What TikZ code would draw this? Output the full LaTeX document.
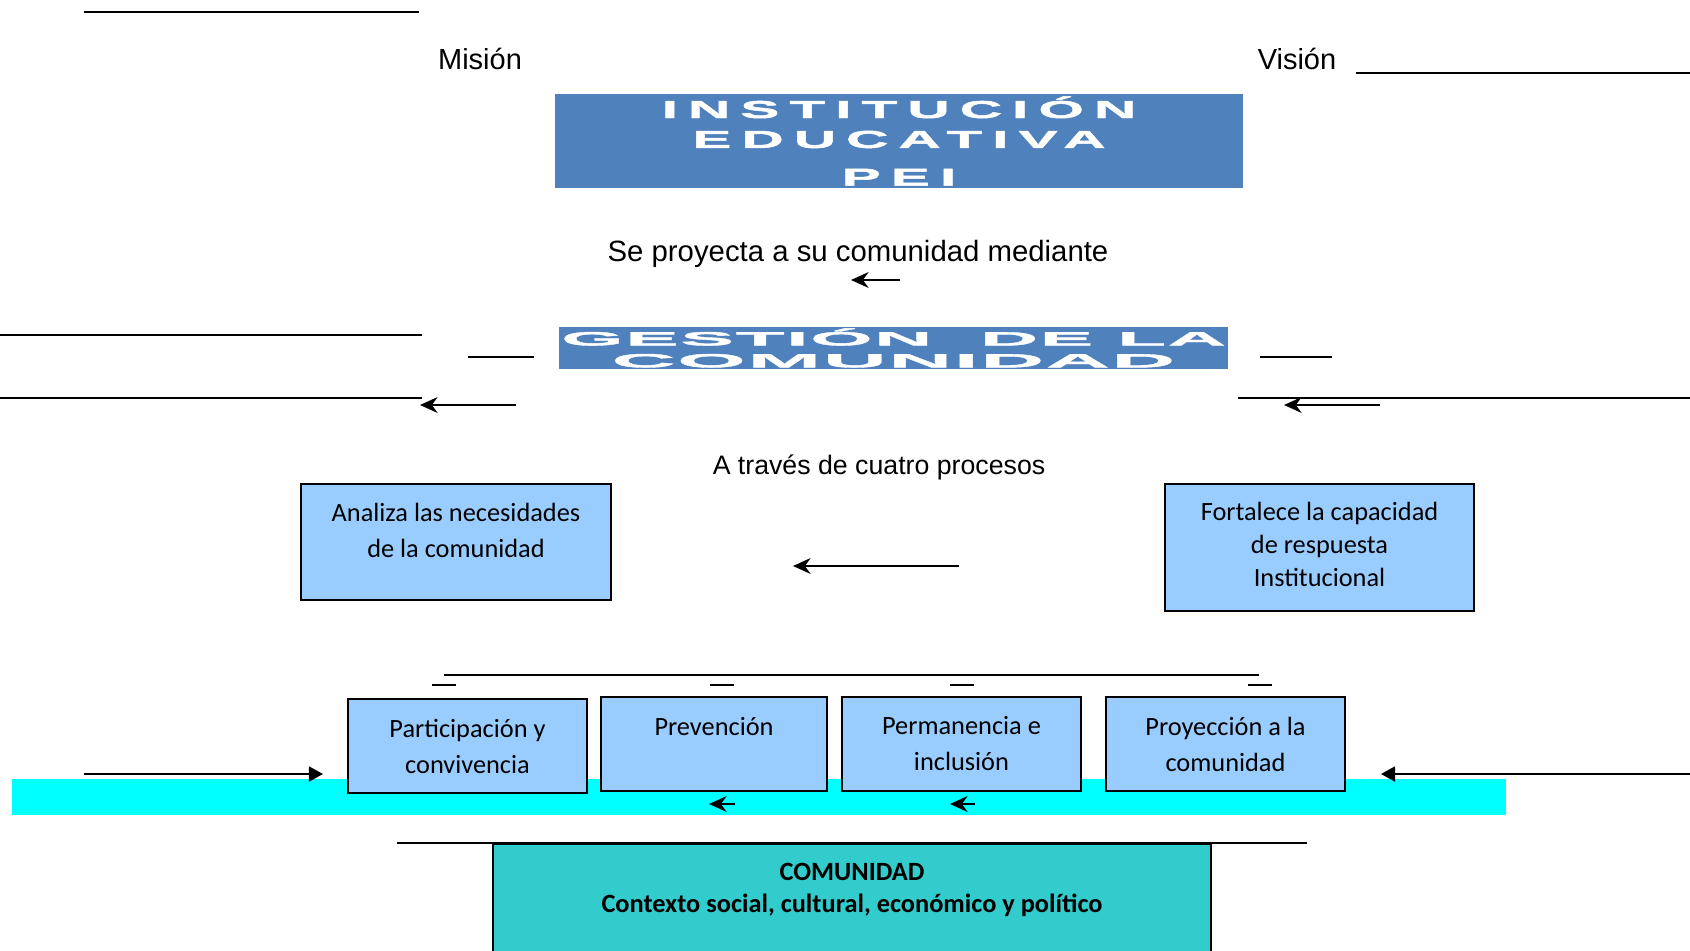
\documentclass[tikz,border=0pt]{standalone}
\usepackage{fontspec}
\setmainfont{Carlito}
\newfontfamily\arialfont{Liberation Sans}
\newfontfamily\instfont[FakeStretch=2.4,FakeBold=2,LetterSpace=41]{Liberation Sans}
\newfontfamily\gestfont[FakeStretch=4.2,FakeBold=2]{Liberation Sans}
\usepackage{tikz}
\usetikzlibrary{arrows.meta}

\definecolor{peiblue}{HTML}{4F81BD}
\definecolor{procblue}{HTML}{99CCFF}
\definecolor{bandcyan}{HTML}{00FFFF}
\definecolor{commteal}{HTML}{33CCCC}

\tikzset{
  plaintext/.style={font=\arialfont\fontsize{16.5pt}{20pt}\selectfont, inner sep=0pt},
  titlebox/.style={fill=peiblue, text=white, inner sep=0pt, align=center},
  procbox/.style={draw=black, line width=1.1pt, fill=procblue, inner sep=0pt, align=center,
    font=\fontsize{15pt}{20.5pt}\selectfont},
  commbox/.style={draw=black, line width=1.1pt, fill=commteal, inner sep=0pt, align=center,
    font=\bfseries\fontsize{15pt}{18.2pt}\selectfont},
  freeline/.style={line width=1.2pt},
  leftarr/.style={line width=1.2pt, -{Stealth[length=10pt,width=9pt]}},
  bigarr/.style={line width=1.2pt, -{Triangle[length=8pt,width=8.5pt]}}
}

\begin{document}
\begin{tikzpicture}[x=0.02cm, y=-0.02cm]
        \newcommand{\figpx}{0.02cm}
        \newcommand{\figprocy}{744}
        \newcommand{\figprocw}{239}
        \newcommand{\figproch}{94}
        \useasboundingbox (0,0) rectangle (1690,950);
        \clip (0,0) rectangle (1690,950);
        % band under the processes
        \fill[bandcyan] (12,779) rectangle (1506,815);
        % top: mision, vision and the institution
        \coordinate (tl1) at (84,12);
        \coordinate (tl2) at (419,12);
        \draw[freeline] (tl1) -- (tl2);
        \node[plaintext] (mision) at (480,59) {Misión};
        \node[plaintext] (vision) at (1297,59) {Visión};
        \coordinate (vl1) at (1356,73);
        \coordinate (vl2) at (1690,73);
        \draw[freeline] (vl1) -- (vl2);
        \node[titlebox, minimum width=688*\figpx, minimum height=94*\figpx,
          font=\instfont\bfseries\fontsize{13.9pt}{17pt}\selectfont] (iepei) at (899,141)
          {INSTITUCIÓN\\EDUCATIVA\\[4.5pt]PEI};
        \node[plaintext, font=\arialfont\fontsize{16.7pt}{20pt}\selectfont] (proyecta) at (858,254)
          {Se proyecta a su comunidad mediante};
        \coordinate (pa1) at (900,280);
        \coordinate (pa2) at (851,280);
        \draw[leftarr] (pa1) -- (pa2);
        % gestion de la comunidad
        \node[titlebox, minimum width=669*\figpx, minimum height=42*\figpx,
          font=\gestfont\bfseries\fontsize{10.9pt}{12.5pt}\selectfont] (gestion) at (893.5,348)
          {\addfontfeature{LetterSpace=8}GESTIÓN\ \ DE LA\\\addfontfeature{FakeStretch=4.6,LetterSpace=10}COMUNIDAD};
        \coordinate (gl1) at (468,357);
        \coordinate (gl2) at (534,357);
        \coordinate (gr1) at (1260,357);
        \coordinate (gr2) at (1332,357);
        \draw[freeline] (gl1) -- (gl2);
        \draw[freeline] (gr1) -- (gr2);
        \coordinate (ll1) at (0,335);
        \coordinate (ll2) at (422,335);
        \coordinate (ll3) at (0,398);
        \coordinate (ll4) at (422,398);
        \coordinate (lr1) at (1238,398);
        \coordinate (lr2) at (1690,398);
        \draw[freeline] (ll1) -- (ll2);
        \draw[freeline] (ll3) -- (ll4);
        \draw[freeline] (lr1) -- (lr2);
        \coordinate (la1) at (516,405);
        \coordinate (la2) at (420,405);
        \coordinate (ra1) at (1380,405);
        \coordinate (ra2) at (1284,405);
        \draw[leftarr] (la1) -- (la2);
        \draw[leftarr] (ra1) -- (ra2);
        % two boxes
        \node[plaintext, font=\arialfont\fontsize{15.2pt}{20pt}\selectfont] (cuatro) at (879,467)
          {A través de cuatro procesos};
        \node[procbox, minimum width=310*\figpx, minimum height=116*\figpx] (analiza) at (456,542)
          {Analiza las necesidades\\de la comunidad\\[-7pt]\mbox{}};
        \node[procbox, minimum width=309*\figpx, minimum height=127*\figpx,
          font=\fontsize{15pt}{18.8pt}\selectfont] (fortalece) at (1319.5,547.5)
          {Fortalece la capacidad\\de respuesta\\Institucional\\[-15pt]\mbox{}};
        \coordinate (ma1) at (959,566);
        \coordinate (ma2) at (793,566);
        \draw[leftarr] (ma1) -- (ma2);
        % the four processes
        \coordinate (pl1) at (444,675);
        \coordinate (pl2) at (1259,675);
        \draw[freeline] (pl1) -- (pl2);
        \foreach \x in {444,722,961.5,1260}
          \draw[freeline] (\x-12,685) -- (\x+12,685);
        \node[procbox, minimum width=\figprocw*\figpx, minimum height=\figproch*\figpx] (part) at (467.5,746)
          {Participación y\\convivencia};
        \node[procbox, minimum width=226*\figpx, minimum height=\figproch*\figpx] (prev) at (714,\figprocy)
          {Prevención\\ \mbox{}};
        \node[procbox, minimum width=\figprocw*\figpx, minimum height=\figproch*\figpx] (perm) at (961.5,\figprocy)
          {Permanencia e\\inclusión};
        \node[procbox, minimum width=\figprocw*\figpx, minimum height=\figproch*\figpx] (proy) at (1225.5,\figprocy)
          {Proyección a la\\comunidad};
        \coordinate (ba1) at (735,804);
        \coordinate (ba2) at (709,804);
        \coordinate (bb1) at (975,804);
        \coordinate (bb2) at (950,804);
        \draw[leftarr] (ba1) -- (ba2);
        \draw[leftarr] (bb1) -- (bb2);
        \coordinate (ea1) at (84,774);
        \coordinate (ea2) at (323,774);
        \coordinate (eb1) at (1690,774);
        \coordinate (eb2) at (1381,774);
        \draw[bigarr] (ea1) -- (ea2);
        \draw[bigarr] (eb1) -- (eb2);
        % comunidad
        \coordinate (cl1) at (397,843);
        \coordinate (cl2) at (1307,843);
        \draw[freeline] (cl1) -- (cl2);
        \node[commbox, anchor=north, minimum width=718*\figpx, minimum height=120*\figpx] (comunidad) at (852,843)
          {COMUNIDAD\\Contexto social, cultural, económico y político\\ \mbox{}};
\end{tikzpicture}
\end{document}
